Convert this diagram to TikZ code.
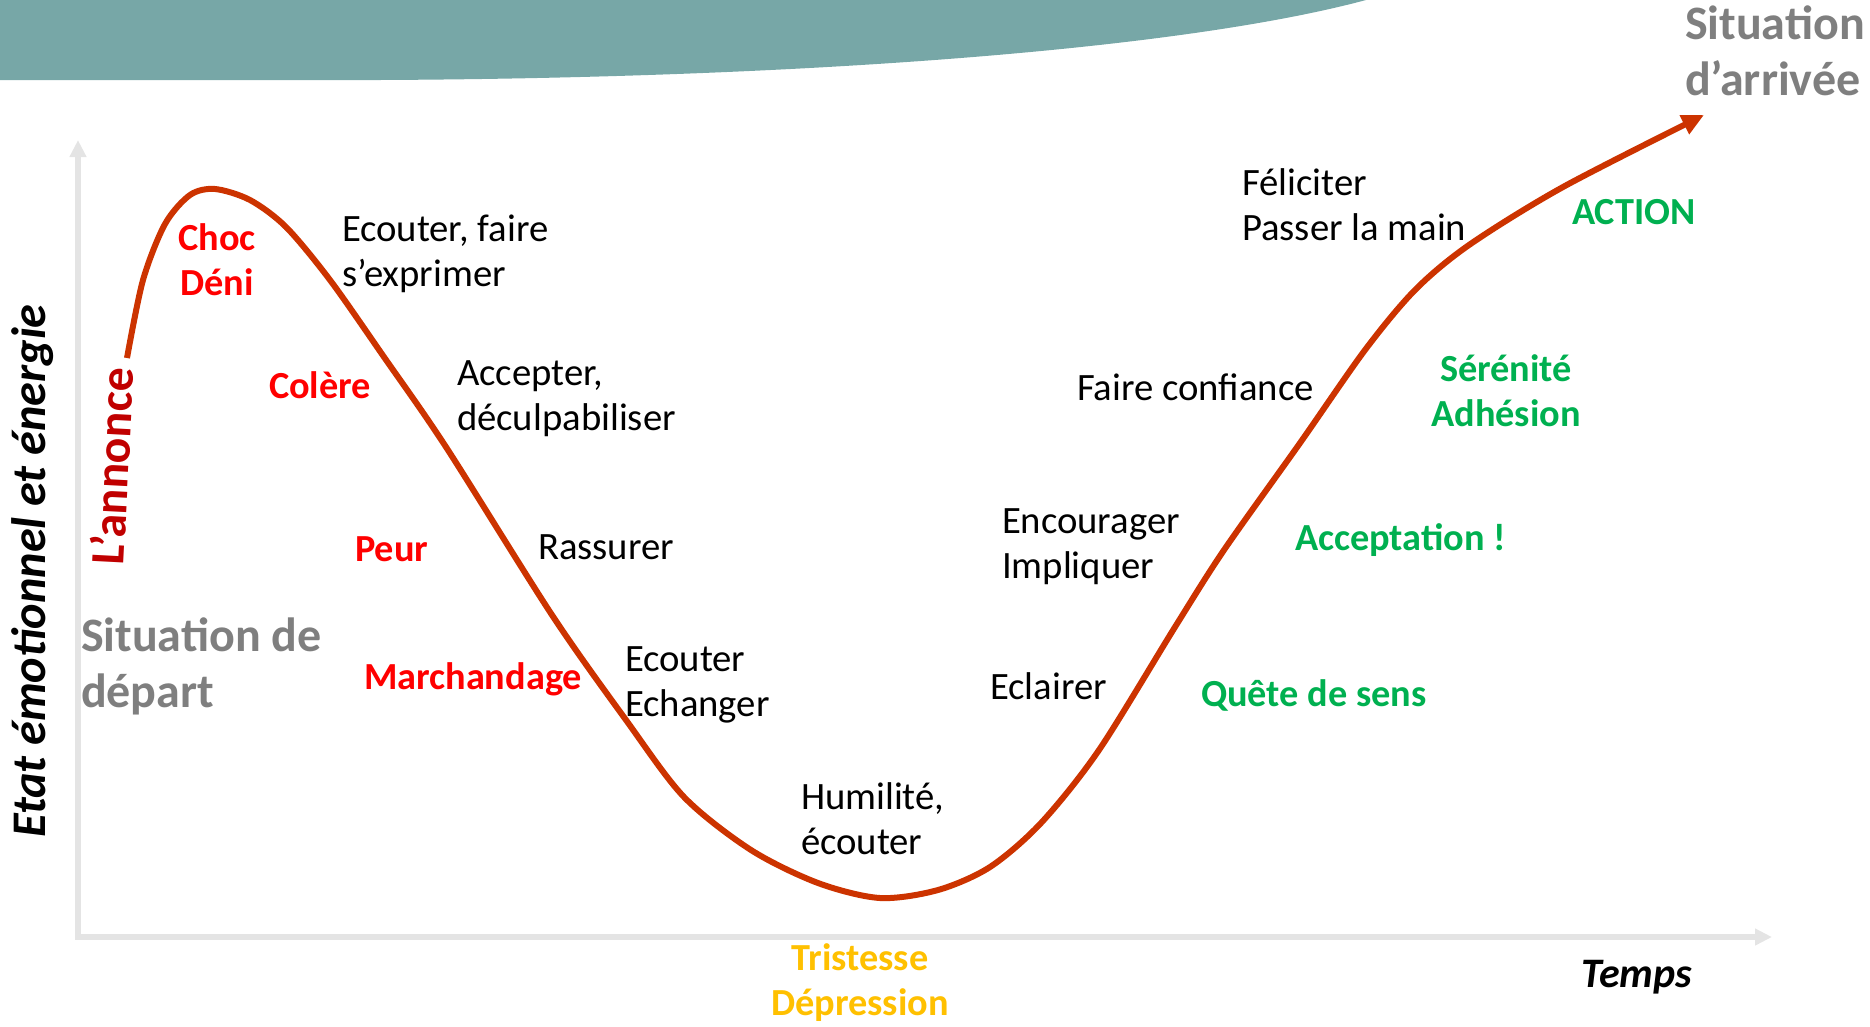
\documentclass[tikz,border=0pt]{standalone}
\usepackage{fontspec}
\setmainfont{Carlito}
\usetikzlibrary{arrows.meta}
\definecolor{tealband}{HTML}{77A7A7}
\definecolor{curvecol}{HTML}{CC3300}
\definecolor{redtxt}{HTML}{FF0000}
\definecolor{darkredtxt}{HTML}{C00000}
\definecolor{greentxt}{HTML}{00B050}
\definecolor{yellowtxt}{HTML}{FFC000}
\definecolor{graytxt}{HTML}{7F7F7F}
\definecolor{axisgray}{HTML}{E4E4E4}
\newcommand\Lstack[1]{\vtop{\halign{##\hfil\cr#1\crcr}}}
\newcommand\Cstack[1]{\vtop{\halign{\hfil##\hfil\cr#1\crcr}}}
\begin{document}
\begin{tikzpicture}[x=1pt,y=-1pt,
  every node/.style={inner sep=0pt, outer sep=0pt},
  advice/.style={font=\fontsize{38.7}{45}\selectfont, text=black},
  emotion/.style={font=\fontsize{38.3}{45}\selectfont\bfseries, text=redtxt},
  positive/.style={font=\fontsize{38.3}{45}\selectfont\bfseries, text=greentxt},
  sadness/.style={font=\fontsize{38.3}{45}\selectfont\bfseries, text=yellowtxt},
  situation/.style={font=\fontsize{48}{56}\selectfont\bfseries, text=graytxt},
  axisline/.style={draw=axisgray, line width=6pt,
    {Triangle[length=17pt,width=16pt]}-{Triangle[length=17pt,width=16pt]}},
  curveline/.style={draw=curvecol, line width=6pt,
    -{Triangle[length=22pt,width=20pt]}},
]
\useasboundingbox (0,0) rectangle (1870,1026);
% teal band
\fill[tealband] (0,0) -- (0,80) -- (380,80) .. controls (800,78) and (1180,50) .. (1366,0) -- cycle;
% axes
\coordinate (ytop) at (78,140);
\coordinate (origin) at (78,937);
\coordinate (xend) at (1772,937);
\draw[axisline] (ytop) -- (origin) -- (xend);
% curve
\draw[curveline] plot[smooth, tension=0.5] coordinates {
  (127,358) (143,280) (165,224) (190,195) (215,189) (250,200) (286,227)
  (330,280) (384,357) (446,447) (552,615) (626,720) (684,797) (751,850)
  (818,883) (880,898) (938,890) (990,867) (1041,823) (1099,750) (1175,627)
  (1224,550) (1300,443) (1365,350) (1415,290) (1469,245) (1563,187) (1704,115)};
% axis labels
\node[font=\fontsize{48.3}{56}\selectfont\bfseries\itshape, rotate=90, anchor=base] (ylabel) at (45,571) {Etat émotionnel et énergie};
\node[font=\fontsize{42}{48}\selectfont\bfseries\itshape, anchor=base east] (temps) at (1692,987) {Temps};
\node[font=\fontsize{47.8}{55}\selectfont\bfseries, text=darkredtxt, rotate=87, anchor=base] (annonce) at (129,467) {L’annonce};
% situations
\node[situation, anchor=base west] (depart) at (81,651) {\Lstack{Situation de\cr départ}};
\node[situation, anchor=base west] (arrivee) at (1685,39) {\Lstack{Situation\cr d’arrivée}};
% emotions
\node[emotion, anchor=base] (choc) at (217,250) {\Cstack{Choc\cr Déni}};
\node[emotion, anchor=base west] (colere) at (269,398) {Colère};
\node[emotion, anchor=base west] (peur) at (355,561) {Peur};
\node[emotion, anchor=base west] (marchandage) at (364,689) {Marchandage};
\node[sadness, anchor=base] (tristesse) at (860,970) {\Cstack{Tristesse\cr Dépression}};
\node[positive, anchor=base west] (quete) at (1201,706) {Quête de sens};
\node[positive, anchor=base west] (acceptation) at (1295,550) {Acceptation !};
\node[positive, anchor=base] (serenite) at (1506,381) {\Cstack{Sérénité\cr Adhésion}};
\node[positive, anchor=base west] (action) at (1572,224) {ACTION};
% advice
\node[advice, anchor=base west] (ecouterfaire) at (342,241) {\Lstack{Ecouter, faire\cr s’exprimer}};
\node[advice, anchor=base west] (accepter) at (457,385) {\Lstack{Accepter,\cr déculpabiliser}};
\node[advice, anchor=base west] (rassurer) at (538,559) {Rassurer};
\node[advice, anchor=base west] (echanger) at (625,671) {\Lstack{Ecouter\cr Echanger}};
\node[advice, anchor=base west] (humilite) at (801,809) {\Lstack{Humilité,\cr écouter}};
\node[advice, anchor=base west] (eclairer) at (990,699) {Eclairer};
\node[advice, anchor=base west] (encourager) at (1002,533) {\Lstack{Encourager\cr Impliquer}};
\node[advice, anchor=base west] (confiance) at (1077,400) {Faire confiance};
\node[advice, anchor=base west] (feliciter) at (1242,195) {\Lstack{Féliciter\cr Passer la main}};
\end{tikzpicture}
\end{document}
